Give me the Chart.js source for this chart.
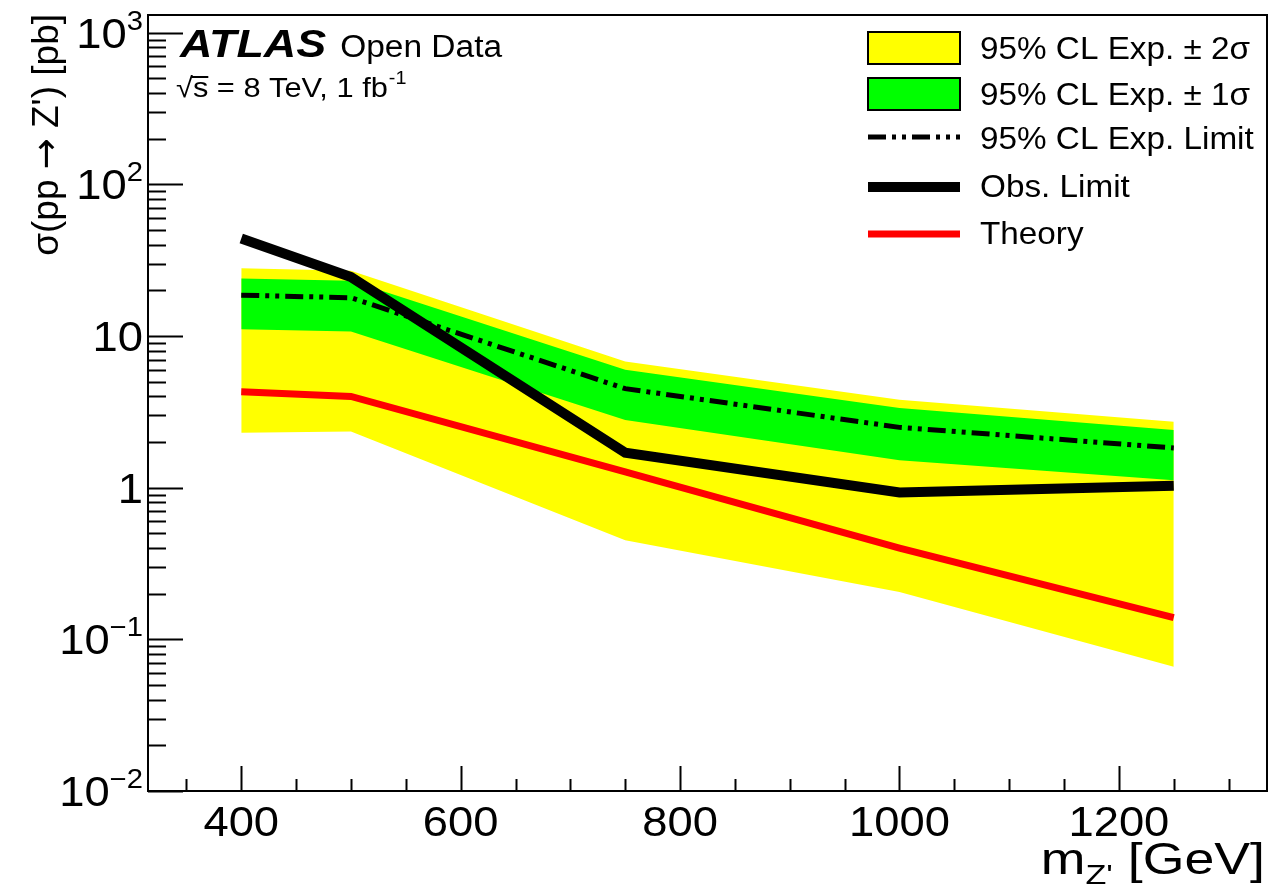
<!DOCTYPE html>
<html lang="en">
<head>
  <meta charset="UTF-8" />
  <title>Z' cross-section limit</title>
  <script src="https://cdn.jsdelivr.net/npm/chart.js"></script>
  <style>
    body { margin: 0; background: #fff; }
  </style>
</head>
<body>
  <canvas id="limitChart" width="1276" height="885"></canvas>

  <script>
    // Z' mass points [GeV]
    const masses = [400, 500, 750, 1000, 1250];

    // cross-section limits [pb]
    const obsLimit = [44, 24.5, 1.7, 0.93, 1.03];
    const expLimit = [18.6, 17.9, 4.5, 2.5, 1.83];
    const exp1sUp = [24.0, 23.2, 6.0, 3.35, 2.4];
    const exp1sDown = [11.1, 10.7, 2.8, 1.52, 1.12];
    const exp2sUp = [28.0, 27.0, 6.8, 3.8, 2.72];
    const exp2sDown = [2.3, 2.35, 0.45, 0.205, 0.066];
    const theory = [4.3, 4.0, 1.27, 0.4, 0.139];

    // axis ticks
    const xTickValues = [400, 600, 800, 1000, 1200];
    const yTickValues = [0.01, 0.1, 1, 10, 100, 1000];
    const yTickBases = ["10", "10", "1", "10", "10", "10"];
    const yTickExps = ["\u22122", "\u22121", "", "", "2", "3"];

    const FONT = '"Liberation Sans", Arial, sans-serif';

    function toXY(values) {
      return masses.map((m, i) => ({ x: m, y: values[i] }));
    }

    function seg(ctx, x1, y1, x2, y2) {
      ctx.beginPath();
      ctx.moveTo(x1, y1);
      ctx.lineTo(x2, y2);
      ctx.stroke();
    }

    // text stretched horizontally by sx, drawn from left x; returns drawn width
    function txt(ctx, s, x, y, font, sx) {
      ctx.font = font;
      const w = ctx.measureText(s).width * sx;
      ctx.save();
      ctx.translate(x, y);
      ctx.scale(sx, 1);
      ctx.fillText(s, 0, 0);
      ctx.restore();
      return w;
    }

    function textWidth(ctx, s, font, sx) {
      ctx.font = font;
      return ctx.measureText(s).width * sx;
    }

    // ROOT-like frame, ticks, labels and legend
    const rootStyle = {
      id: "rootStyle",
      afterDraw(chart) {
        const ctx = chart.ctx;
        const a = chart.chartArea;
        const xs = chart.scales.x;
        const ys = chart.scales.y;
        const SX = 1.08;
        const labelFont = "42px " + FONT;
        const supFont = "27px " + FONT;

        ctx.save();
        ctx.strokeStyle = "#000";
        ctx.fillStyle = "#000";
        ctx.lineWidth = 2;
        ctx.strokeRect(a.left, a.top, a.right - a.left, a.bottom - a.top);

        // x ticks
        for (let m = 350; m <= xs.max; m += 50) {
          const px = Math.round(xs.getPixelForValue(m)) + 0.5;
          const len = m % 200 === 0 ? 25 : 12;
          seg(ctx, px, a.bottom, px, a.bottom - len);
        }
        // y ticks (log)
        for (let d = -2; d <= 3; d++) {
          for (let k = 1; k <= 9; k++) {
            const v = k * Math.pow(10, d);
            if (v > ys.max) break;
            const py = Math.round(ys.getPixelForValue(v)) + 0.5;
            const len = k === 1 ? 35 : 18;
            seg(ctx, a.left, py, a.left + len, py);
          }
        }

        // x tick labels
        ctx.textAlign = "left";
        ctx.textBaseline = "alphabetic";
        xTickValues.forEach(v => {
          const w = textWidth(ctx, String(v), labelFont, SX);
          txt(ctx, String(v), xs.getPixelForValue(v) - w / 2, 836, labelFont, SX);
        });

        // y tick labels
        yTickValues.forEach((v, i) => {
          const py = ys.getPixelForValue(v);
          const wb = textWidth(ctx, yTickBases[i], labelFont, SX);
          const we = yTickExps[i] ? textWidth(ctx, yTickExps[i], supFont, SX) : 0;
          const x0 = 143 - wb - we;
          txt(ctx, yTickBases[i], x0, py + 15, labelFont, SX);
          if (yTickExps[i]) {
            txt(ctx, yTickExps[i], x0 + wb, py - 3, supFont, SX);
          }
        });

        // x title
        const tFont = "44px " + FONT;
        const sFont = "28px " + FONT;
        const tSX = 1.22;
        const wm = textWidth(ctx, "m", tFont, tSX);
        const wz = textWidth(ctx, "Z'", sFont, tSX);
        const wg = textWidth(ctx, " [GeV]", tFont, tSX);
        let tx = 1265 - wm - wz - wg;
        txt(ctx, "m", tx, 874, tFont, tSX);
        txt(ctx, "Z'", tx + wm, 884, sFont, tSX);
        txt(ctx, " [GeV]", tx + wm + wz, 874, tFont, tSX);

        // y title, written upward ending at the top of the frame
        ctx.save();
        ctx.translate(58, 14);
        ctx.rotate(-Math.PI / 2);
        const yFont = "37px " + FONT;
        const aFont = "37px \"DejaVu Sans\", sans-serif";
        const p1 = "\u03c3(pp ", p2 = "\u2192", p3 = " Z') [pb]";
        const w1 = textWidth(ctx, p1, yFont, 1);
        const w2 = textWidth(ctx, p2, aFont, 1);
        const w3 = textWidth(ctx, p3, yFont, 1);
        let yx = -(w1 + w2 + w3);
        txt(ctx, p1, yx, 0, yFont, 1);
        txt(ctx, p2, yx + w1, 0, aFont, 1);
        txt(ctx, p3, yx + w1 + w2, 0, yFont, 1);
        ctx.restore();

        // ATLAS label
        const wA = txt(ctx, "ATLAS", 180, 57, "italic bold 39px " + FONT, 1.15);
        txt(ctx, "Open Data", 180 + wA + 14, 57, "31px " + FONT, 1.08);
        const eFont = "28px " + FONT;
        const wr = txt(ctx, "\u221a", 176, 97, eFont, 1.1);
        const wsS = textWidth(ctx, "s", eFont, 1.1);
        ctx.lineWidth = 2;
        seg(ctx, 176 + wr - 1, 77, 176 + wr + wsS, 77);
        const we = txt(ctx, "s = 8 TeV, 1 fb", 176 + wr, 97, eFont, 1.1);
        txt(ctx, "-1", 176 + wr + we + 1, 84, "18px " + FONT, 1.1);

        // legend
        ctx.lineWidth = 2;
        ctx.fillStyle = "#ffff00";
        ctx.fillRect(868, 32, 92, 32);
        ctx.strokeRect(868, 32, 92, 32);
        ctx.fillStyle = "#00ff00";
        ctx.fillRect(868, 78, 92, 32);
        ctx.strokeRect(868, 78, 92, 32);

        ctx.lineWidth = 5;
        ctx.setLineDash([18, 6, 4, 6, 4, 6]);
        seg(ctx, 868, 137, 960, 137);
        ctx.setLineDash([]);
        ctx.lineWidth = 10;
        seg(ctx, 868, 187, 960, 187);
        ctx.strokeStyle = "#ff0000";
        ctx.lineWidth = 7;
        seg(ctx, 868, 234, 960, 234);

        ctx.fillStyle = "#000";
        const lFont = "32px " + FONT;
        txt(ctx, "95% CL Exp. \u00b1 2\u03c3", 980, 59, lFont, 1.04);
        txt(ctx, "95% CL Exp. \u00b1 1\u03c3", 980, 105, lFont, 1.04);
        txt(ctx, "95% CL Exp. Limit", 980, 149, lFont, 1.04);
        txt(ctx, "Obs. Limit", 980, 197, lFont, 1.04);
        txt(ctx, "Theory", 980, 244, lFont, 1.04);
        ctx.restore();
      }
    };

    const noLine = "rgba(0,0,0,0)";

    new Chart(document.getElementById("limitChart"), {
      type: "line",
      data: {
        datasets: [
          { label: "Theory", data: toXY(theory), borderColor: "#ff0000", borderWidth: 7, fill: false },
          { label: "Obs. Limit", data: toXY(obsLimit), borderColor: "#000000", borderWidth: 10, fill: false },
          { label: "95% CL Exp. Limit", data: toXY(expLimit), borderColor: "#000000", borderWidth: 5, borderDash: [18, 6, 4, 6, 4, 6], fill: false },
          { label: "95% CL Exp. ± 1σ", data: toXY(exp1sUp), borderColor: noLine, borderWidth: 0, backgroundColor: "#00ff00", fill: "+1" },
          { label: "1σ low", data: toXY(exp1sDown), borderColor: noLine, borderWidth: 0, fill: false },
          { label: "95% CL Exp. ± 2σ", data: toXY(exp2sUp), borderColor: noLine, borderWidth: 0, backgroundColor: "#ffff00", fill: "+1" },
          { label: "2σ low", data: toXY(exp2sDown), borderColor: noLine, borderWidth: 0, fill: false }
        ]
      },
      options: {
        responsive: false,
        animation: false,
        layout: { padding: { left: 0, top: 15, right: 9, bottom: 0 } },
        elements: {
          point: { radius: 0 },
          line: { tension: 0, borderCapStyle: "butt" }
        },
        plugins: {
          legend: { display: false },
          tooltip: { enabled: false }
        },
        scales: {
          x: {
            type: "linear",
            min: 315,
            max: 1335,
            ticks: { display: false },
            grid: { display: false },
            border: { display: false },
            afterFit(scale) { scale.height = 94; }
          },
          y: {
            type: "logarithmic",
            min: 0.01,
            max: 1310,
            ticks: { display: false },
            grid: { display: false },
            border: { display: false },
            afterFit(scale) { scale.width = 148; }
          }
        }
      },
      plugins: [rootStyle]
    });
  </script>
</body>
</html>
